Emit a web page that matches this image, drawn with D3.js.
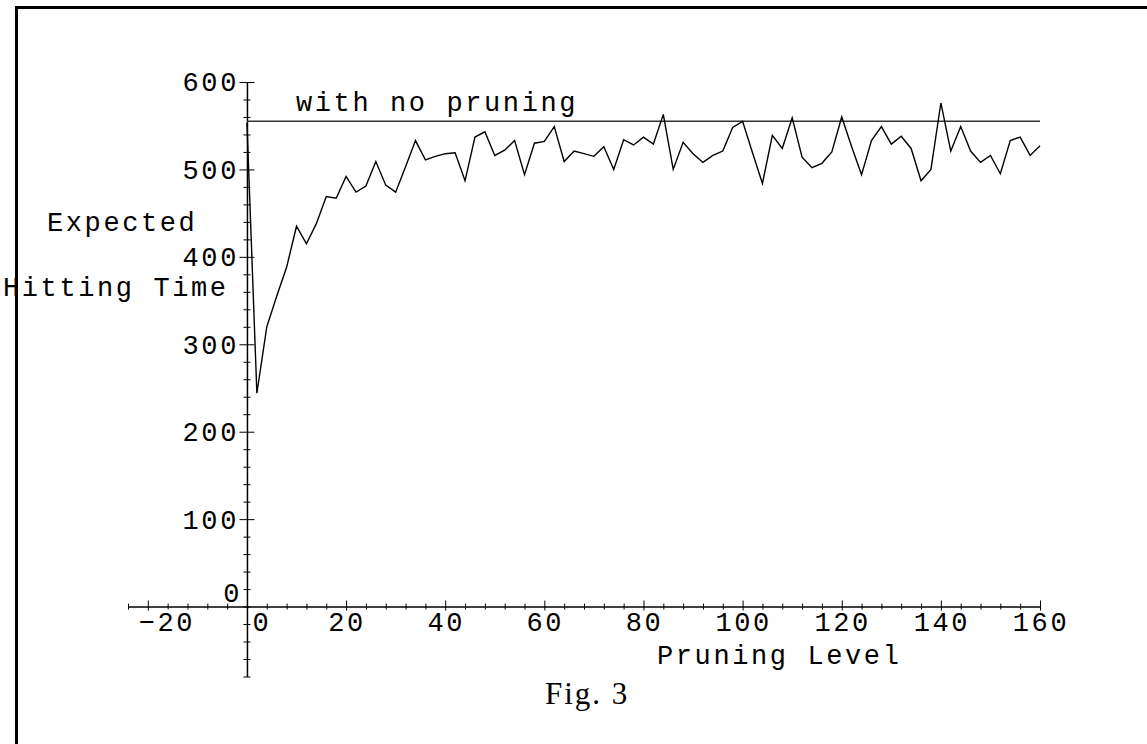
<!DOCTYPE html>
<meta charset="utf-8">
<script src="https://d3js.org/d3.v7.min.js"></script>
<style>
  body { margin: 0; background: #fff; }
  text { font-family: "Liberation Mono", "DejaVu Sans Mono", monospace; fill: #000; }
  .mono { font-size: 27px; letter-spacing: 2.6px; }
</style>
<div id="chart"></div>
<script>

// pruning levels (x) and expected hitting times (y)
var pruningLevel = [0, 2, 4, 6, 8, 10, 12, 14, 16, 18, 20, 22, 24, 26, 28, 30, 32, 34, 36, 38,
  40, 42, 44, 46, 48, 50, 52, 54, 56, 58, 60, 62, 64, 66, 68, 70, 72, 74, 76, 78,
  80, 82, 84, 86, 88, 90, 92, 94, 96, 98, 100, 102, 104, 106, 108, 110, 112, 114, 116, 118,
  120, 122, 124, 126, 128, 130, 132, 134, 136, 138, 140, 142, 144, 146, 148, 150, 152, 154, 156, 158, 160];
var hittingTime = [553, 244, 320, 355, 388, 435, 415, 438, 469, 467, 492, 474, 481, 509, 482, 474, 503, 533, 511, 515,
  518, 519, 487, 537, 543, 516, 522, 533, 494, 530, 532, 549, 509, 521, 518, 515, 526, 500, 534, 528,
  537, 529, 563, 500, 531, 518, 508, 516, 521, 548, 555, 519, 484, 539, 524, 559, 514, 502, 507, 520,
  560, 526, 494, 533, 549, 529, 538, 524, 487, 500, 576, 521, 549, 521, 508, 516, 495, 533, 537, 516, 527];
var noPruning = 555;

var xTickLabels = [-20, 0, 20, 40, 60, 80, 100, 120, 140, 160];
var yTickLabels = [100, 200, 300, 400, 500, 600];

var width = 1147, height = 744;

var svg = d3.select("#chart").append("svg")
    .attr("width", width)
    .attr("height", height);

// frame (only left and top edges are visible)
svg.append("path")
    .attr("d", "M16.5,744 L16.5,7.5 L1147,7.5")
    .attr("fill", "none")
    .attr("stroke", "#000")
    .attr("stroke-width", 3);

var x = d3.scaleLinear().domain([-24, 160]).range([128, 1040]);
var y = d3.scaleLinear().domain([-80, 600]).range([676.5, 82]);

// x axis
var xMinor = d3.range(-24, 161, 4);
var gx = svg.append("g")
    .attr("transform", "translate(0," + y(0) + ")")
    .call(d3.axisBottom(x).tickValues(xMinor).tickSize(6).tickSizeOuter(0).tickFormat(""));
gx.selectAll(".tick line").attr("y1", -3).attr("y2", 3);
gx.selectAll(".tick").filter(function(d) { return d % 20 === 0; })
    .select("line").attr("y1", -6).attr("y2", 4);
gx.select(".domain").attr("stroke-width", 1.5);

// y axis
var yMinor = d3.range(-80, 601, 20);
var gy = svg.append("g")
    .attr("transform", "translate(" + x(0) + ",0)")
    .call(d3.axisLeft(y).tickValues(yMinor).tickSize(6).tickSizeOuter(0).tickFormat(""));
gy.selectAll(".tick line").attr("x1", -3.5).attr("x2", 3.5);
gy.selectAll(".tick").filter(function(d) { return d % 100 === 0 && d !== 0; })
    .select("line").attr("x1", -7.5).attr("x2", 7.5);
gy.select(".domain").attr("stroke-width", 1.5);

// tick labels (maple nudges the -20 and 0 labels right)
var xNudge = function(d) { return d === -20 ? 19 : d === 0 ? 15 : 1; };
svg.append("g").selectAll("text")
  .data(xTickLabels)
  .enter().append("text")
    .attr("class", "mono")
    .attr("x", function(d) { return x(d) + xNudge(d); })
    .attr("y", y(0) + 15)
    .attr("dy", "0.35em")
    .attr("text-anchor", "middle")
    .text(function(d) { return d < 0 ? "\u2212" + Math.abs(d) : d; });

svg.append("g").selectAll("text")
  .data(yTickLabels)
  .enter().append("text")
    .attr("class", "mono")
    .attr("x", x(0) - 8)
    .attr("y", function(d) { return y(d); })
    .attr("dy", "0.35em")
    .attr("text-anchor", "end")
    .text(function(d) { return d; });

// origin label of the y axis
svg.append("text")
    .attr("class", "mono")
    .attr("x", x(0) - 5)
    .attr("y", y(0) - 14)
    .attr("dy", "0.35em")
    .attr("text-anchor", "end")
    .text("0");

// reference line: no pruning
svg.append("line")
    .attr("x1", x(0)).attr("x2", x(160))
    .attr("y1", y(noPruning)).attr("y2", y(noPruning))
    .attr("stroke", "#333")
    .attr("stroke-width", 1.5);

svg.append("text")
    .attr("class", "mono")
    .attr("x", 296)
    .attr("y", y(noPruning) - 20)
    .attr("dy", "0.35em")
    .text("with no pruning");

// data line
var pts = pruningLevel.map(function(d, i) { return [d, hittingTime[i]]; });
svg.append("path")
    .datum(pts)
    .attr("fill", "none")
    .attr("stroke", "#000")
    .attr("stroke-width", 1.4)
    .attr("d", d3.line()
      .x(function(d) { return x(d[0]); })
      .y(function(d) { return y(d[1]); }));

// axis titles
svg.append("text")
    .attr("class", "mono")
    .attr("x", 47)
    .attr("y", 222)
    .attr("dy", "0.35em")
    .text("Expected");

svg.append("text")
    .attr("class", "mono")
    .attr("x", 3)
    .attr("y", 287)
    .attr("dy", "0.35em")
    .text("Hitting Time");

svg.append("text")
    .attr("class", "mono")
    .attr("x", 657)
    .attr("y", 655)
    .attr("dy", "0.35em")
    .text("Pruning Level");

// caption
svg.append("text")
    .attr("x", 545)
    .attr("y", 704)
    .style("font-family", "'Liberation Serif', 'DejaVu Serif', serif")
    .style("font-size", "31px")
    .style("letter-spacing", "2px")
    .text("Fig. 3");

</script>
